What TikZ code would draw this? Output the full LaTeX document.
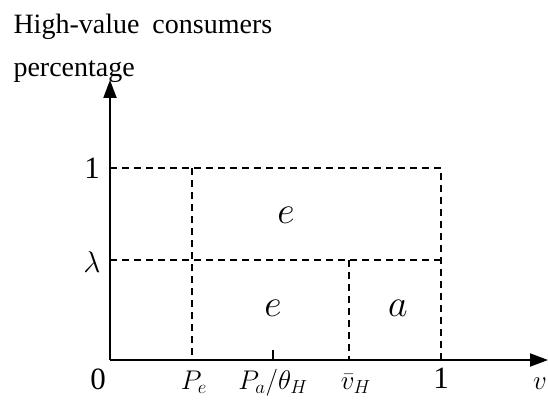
\RequirePackage{fix-cm}
\documentclass[tikz,border=0pt]{standalone}
\usepackage{fontspec}
\setmainfont{Liberation Serif}
\usetikzlibrary{arrows.meta}
\begin{document}
\begin{tikzpicture}[x=1pt, y=1pt, >={Triangle[width=13pt,length=18pt]},
    font=\fontsize{28}{30}\selectfont,
    grid/.style={line width=1.4pt, dash pattern=on 7pt off 5pt},
    numlbl/.style={font=\fontsize{31}{33}\selectfont},
    ticklbl/.style={font=\fontsize{27}{29}\selectfont, anchor=base, inner sep=0pt},
    regionlbl/.style={font=\fontsize{38}{40}\selectfont}]
    \useasboundingbox (-110,-39) rectangle (438,360);
    \coordinate (O) at (0,0);
    \coordinate (xend) at (438,0);
    \coordinate (yend) at (0,280);
    % axes
    \draw[line width=2pt, ->] (O) -- (xend);
    \draw[line width=2pt, ->] (O) -- (yend);
    \node[anchor=west] (title1) at (-100,333) {High-value\hspace{6pt} consumers};
    \node[anchor=west] (title2) at (-100,288) {percentage};
    % dashed regions
    \draw[grid] (0,192) -- (331,192) -- (331,0);
    \draw[grid] (0,100) -- (331,100);
    \draw[grid] (82,192) -- (82,0);
    \draw[grid] (239,100) -- (239,0);
    \draw[line width=1.4pt] (163,0) -- (163,10);
    % axis labels
    \node[numlbl] (one) at (-18,192) {1};
    \node[font=\fontsize{30}{32}\selectfont] (lam) at (-18,98) {$\lambda$};
    \node[numlbl] (zero) at (-12,-19) {0};
    \node[ticklbl] (pe) at (84,-29) {$P_e$};
    \node[ticklbl] (pa) at (163,-29) {$P_a/\theta_H$};
    \node[ticklbl] (vh) at (246,-29) {$\bar{v}_H$};
    \node[numlbl] (vone) at (331,-18) {1};
    \node[ticklbl] (v) at (430,-29) {$v$};
    % region labels
    \node[regionlbl] (eup) at (176,145) {$e$};
    \node[regionlbl] (elow) at (163,52) {$e$};
    \node[regionlbl] (ar) at (288,52) {$a$};
\end{tikzpicture}
\end{document}
